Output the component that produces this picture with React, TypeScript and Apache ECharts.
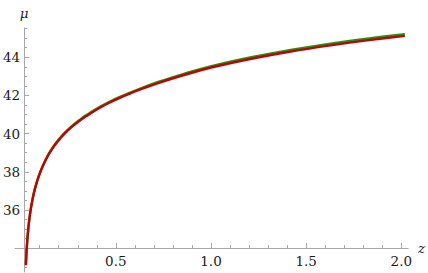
import React, { useEffect, useRef } from "react";
import * as echarts from "echarts";

// redshift samples
const zValues = [0.009, 0.01, 0.012, 0.014, 0.017, 0.02, 0.025, 0.03, 0.035, 0.04, 0.05, 0.06, 0.07, 0.085, 0.1, 0.125, 0.15, 0.175, 0.2, 0.25, 0.3, 0.35, 0.4, 0.45, 0.5, 0.6, 0.7, 0.8, 0.9, 1.0, 1.2, 1.4, 1.6, 1.8, 2.0];
// distance modulus, red curve
const muRed = [33.1, 33.34, 33.73, 34.06, 34.48, 34.84, 35.32, 35.72, 36.05, 36.34, 36.83, 37.22, 37.56, 37.98, 38.34, 38.84, 39.24, 39.57, 39.87, 40.35, 40.74, 41.07, 41.37, 41.63, 41.86, 42.27, 42.63, 42.95, 43.24, 43.5, 43.93, 44.3, 44.61, 44.88, 45.12];
// distance modulus, green curve
const muGreen = [33.13, 33.37, 33.76, 34.09, 34.51, 34.87, 35.35, 35.75, 36.08, 36.37, 36.86, 37.25, 37.59, 38.01, 38.37, 38.87, 39.28, 39.61, 39.91, 40.39, 40.78, 41.11, 41.41, 41.68, 41.91, 42.32, 42.69, 43.01, 43.31, 43.57, 44.01, 44.38, 44.7, 44.97, 45.21];

const yMajorTicks = [36, 38, 40, 42, 44];
const yMinorTicks = [33, 33.5, 34, 34.5, 35, 35.5, 36, 36.5, 37, 37.5, 38, 38.5, 39, 39.5, 40, 40.5, 41, 41.5, 42, 42.5, 43, 43.5, 44, 44.5, 45, 45.5];
const xMajorTicks = [0.5, 1.0, 1.5, 2.0];
const xMinorTicks = [0.1, 0.2, 0.3, 0.4, 0.5, 0.6, 0.7, 0.8, 0.9, 1.0, 1.1, 1.2, 1.3, 1.4, 1.5, 1.6, 1.7, 1.8, 1.9, 2.0];

const FONT = "DejaVu Serif";
const FONT_SIZE = 13.5;
const AXIS_COLOR = "#a8a8a8";
const TEXT_COLOR = "#1a1a1a";

export default function App() {
  const ref = useRef<HTMLDivElement>(null);
  useEffect(() => {
    if (!ref.current) return;
    const chart = echarts.init(ref.current, null, { renderer: "svg" });
    const pairs = (ys: number[]) => zValues.map((z, i) => [z, ys[i]]);
    chart.setOption({
      animation: false,
      textStyle: { fontFamily: FONT },
      grid: [
        { left: 20.7, right: 16.3, top: 28, bottom: 1 },
        { left: 15, right: 16.3, top: 28, bottom: 25 },
      ],
      xAxis: [
        { type: "value", gridIndex: 0, min: 0, max: 2.036, show: false },
        {
          type: "value",
          gridIndex: 1,
          min: -0.0297,
          max: 2.036,
          position: "bottom",
          name: "z",
          nameLocation: "end",
          nameGap: 9,
          nameTextStyle: { fontFamily: FONT, fontStyle: "italic", fontSize: FONT_SIZE, color: TEXT_COLOR },
          axisLine: { show: true, lineStyle: { color: AXIS_COLOR, width: 1 } },
          axisTick: { show: true, inside: true, length: 5, customValues: xMajorTicks, lineStyle: { color: AXIS_COLOR } },
          axisLabel: {
            show: true,
            customValues: xMajorTicks,
            margin: 6,
            fontFamily: FONT,
            fontSize: FONT_SIZE,
            color: TEXT_COLOR,
            formatter: (v: number) => v.toFixed(1),
          },
          splitLine: { show: false },
        },
        {
          type: "value",
          gridIndex: 1,
          min: -0.0297,
          max: 2.036,
          position: "bottom",
          axisLine: { show: false },
          axisTick: { show: true, inside: true, length: 3, customValues: xMinorTicks, lineStyle: { color: AXIS_COLOR } },
          axisLabel: { show: false },
          splitLine: { show: false },
        },
      ],
      yAxis: [
        {
          type: "value",
          gridIndex: 0,
          min: 32.75,
          max: 45.53,
          position: "left",
          name: "μ",
          nameLocation: "end",
          nameGap: 8,
          nameTextStyle: { fontFamily: FONT, fontStyle: "italic", fontSize: FONT_SIZE, color: TEXT_COLOR, align: "center" },
          axisLine: { show: true, lineStyle: { color: AXIS_COLOR, width: 1 } },
          axisTick: { show: true, inside: true, length: 5, customValues: yMajorTicks, lineStyle: { color: AXIS_COLOR } },
          axisLabel: {
            show: true,
            customValues: yMajorTicks,
            margin: 4,
            fontFamily: FONT,
            fontSize: FONT_SIZE,
            color: TEXT_COLOR,
          },
          splitLine: { show: false },
        },
        {
          type: "value",
          gridIndex: 0,
          min: 32.75,
          max: 45.53,
          position: "left",
          axisLine: { show: false },
          axisTick: { show: true, inside: true, length: 3, customValues: yMinorTicks, lineStyle: { color: AXIS_COLOR } },
          axisLabel: { show: false },
          splitLine: { show: false },
        },
        { type: "value", gridIndex: 1, min: 0, max: 1, show: false },
      ],
      series: [
        {
          type: "line",
          xAxisIndex: 0,
          yAxisIndex: 0,
          data: pairs(muGreen),
          showSymbol: false,
          smooth: 0.25,
          lineStyle: { color: "#139a13", width: 2.4 },
          itemStyle: { color: "#139a13" },
          z: 2,
        },
        {
          type: "line",
          xAxisIndex: 0,
          yAxisIndex: 0,
          data: pairs(muRed),
          showSymbol: false,
          smooth: 0.25,
          lineStyle: { color: "#c40000", width: 2.4 },
          itemStyle: { color: "#c40000" },
          z: 3,
        },
      ],
    });
    return () => chart.dispose();
  }, []);
  return <div ref={ref} style={{ position: "absolute", left: 0, top: 0, width: 428, height: 273 }} />;
}
